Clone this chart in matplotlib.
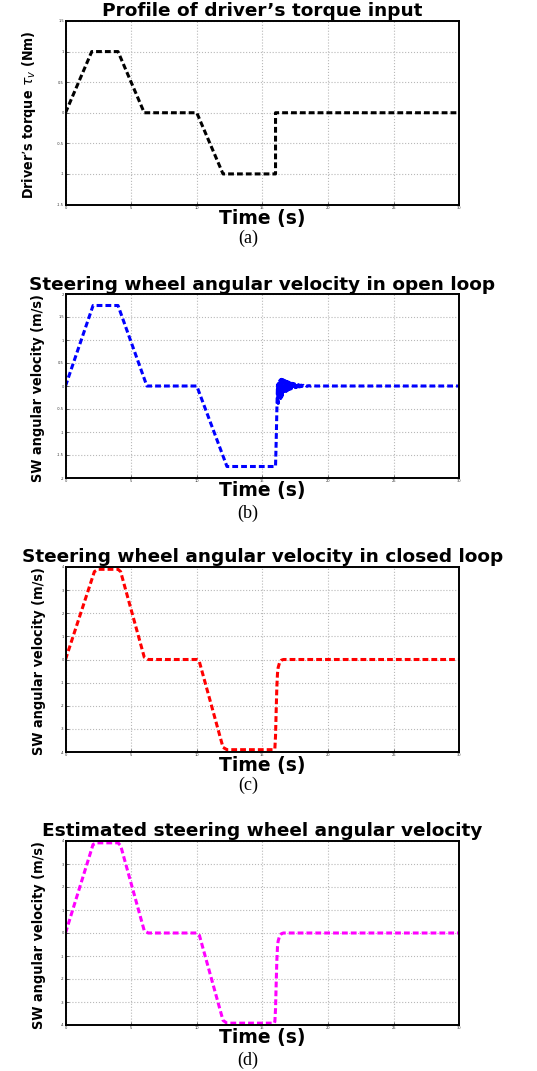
"""Four stacked panels: driver torque and steering wheel angular velocity."""

import matplotlib

matplotlib.use("Agg")
import matplotlib.pyplot as plt  # noqa: E402

# (a) driver's torque input (Nm)
torque_t = [0, 2.0, 4.0, 6.0, 10.0, 12.0, 16.0, 16.0, 30]
torque_v = [0, 1.0, 1.0, 0.0, 0.0, -1.0, -1.0, 0.0, 0.0]

# (b) open loop steering wheel angular velocity, with the ringing after the step
open_t = [0, 2.1, 4.0, 6.2, 10.0, 12.3, 16.0, 16.05, 16.10,
          16.15, 16.20, 16.25, 16.30, 16.35, 16.40, 16.45, 16.50, 16.55, 16.60,
          16.65, 16.70, 16.75, 16.80, 16.85, 16.90, 16.95, 17.00, 17.05, 17.10,
          17.15, 17.20, 17.25, 17.30, 17.35, 17.40, 17.45, 17.50, 17.55, 17.60,
          17.65, 17.70, 17.75, 17.80, 17.85, 17.90, 17.95, 18.00, 18.10, 18.20,
          18.30, 18.40, 18.55, 18.70, 18.90, 19.10, 30]
open_v = [0, 1.75, 1.75, 0.0, 0.0, -1.75, -1.75, -1.20, -0.55,
          0.03, -0.38, 0.09, -0.32, 0.13, -0.27, 0.145, -0.22, 0.14, -0.18,
          0.125, -0.15, 0.11, -0.12, 0.10, -0.10, 0.09, -0.08, 0.08, -0.07,
          0.07, -0.06, 0.06, -0.05, 0.05, -0.04, 0.045, -0.035, 0.04, -0.03,
          0.035, -0.025, 0.03, -0.02, 0.025, -0.015, 0.02, -0.012, 0.016, -0.01,
          0.012, -0.007, 0.008, -0.004, 0.004, 0.0, 0.0]

# (c) closed loop steering wheel angular velocity
closed_t = [0, 2.2, 2.5, 4.0, 4.2, 6.0, 6.3, 10.0, 10.2, 12.0, 12.3, 15.9,
            15.95, 16.0, 16.05, 16.1, 16.15, 16.2, 16.3, 16.45, 16.6, 30]
closed_v = [0, 3.8, 3.9, 3.9, 3.8, 0.1, 0.0, 0.0, -0.1, -3.8, -3.9, -3.9,
            -3.85, -3.3, -2.2, -1.2, -0.6, -0.35, -0.15, -0.03, 0.0, 0.0]

# (d) estimated steering wheel angular velocity
est_t = [0, 2.1, 2.4, 4.0, 4.2, 6.0, 6.3, 10.0, 10.2, 12.0, 12.3, 15.9,
         15.95, 16.0, 16.05, 16.1, 16.15, 16.2, 16.3, 16.45, 16.6, 30]
est_v = [0, 3.85, 3.92, 3.92, 3.8, 0.1, 0.0, 0.0, -0.1, -3.8, -3.92, -3.92,
         -3.85, -3.3, -2.2, -1.2, -0.6, -0.35, -0.15, -0.03, 0.0, 0.0]

time_ticks = [0, 5, 10, 15, 20, 25, 30]
torque_ticks = [-1.5, -1, -0.5, 0, 0.5, 1, 1.5]
open_ticks = [-2, -1.5, -1, -0.5, 0, 0.5, 1, 1.5, 2]
closed_ticks = [-4, -3, -2, -1, 0, 1, 2, 3, 4]

W, H = 537, 1071
TITLE_FONT = dict(family="DejaVu Sans", weight="bold", size=13.3)
YLABEL_FONT = dict(family="DejaVu Sans", stretch="condensed", weight="bold")


def fx(px):
    return px / W


def fy(px):
    return 1 - px / H


def panel(fig, top, bottom, t, v, color, ticks, title, ylabel, caption,
          title_y, xlabel_y, caption_y, ylabel_x, ylabel_size):
    left, right = 65.5, 459.3
    ax = fig.add_axes([fx(left), fy(bottom), fx(right - left), (bottom - top) / H])
    ax.plot(t, v, color=color, lw=2.2, linestyle=(0, (1.9, 1.0)))
    ax.set_xlim(0, 30)
    ax.set_ylim(ticks[0], ticks[-1])
    ax.set_xticks(time_ticks)
    ax.set_yticks(ticks)
    ax.set_yticklabels([f"{x:g}" for x in ticks])
    ax.grid(True, linestyle=":", color="#b8b8b8", lw=0.8)
    ax.tick_params(direction="in", length=2, width=0.5, labelsize=2.6,
                   pad=1, colors="#333333")
    for s in ax.spines.values():
        s.set_linewidth(1.4)
    cx = (left + right) / 2
    fig.text(fx(cx), fy(title_y), title, ha="center", va="center", **TITLE_FONT)
    fig.text(fx(cx), fy(xlabel_y), "Time (s)", ha="center", va="center",
             family="DejaVu Sans", weight="bold", size=13.5)
    fig.text(fx(248), fy(caption_y), caption, ha="center", va="center",
             family="Liberation Serif", size=13)
    fig.text(fx(ylabel_x), fy((top + bottom) / 2 + 2), ylabel, rotation=90,
             ha="center", va="center", size=ylabel_size, **YLABEL_FONT)
    return ax


def main():
    fig = plt.figure(figsize=(W / 100, H / 100), dpi=100)
    panel(fig, 21, 204.5, torque_t, torque_v, "black", torque_ticks,
          "Profile of driver’s torque input",
          "Driver’s torque $\\tau_v$ (Nm)", "(a)", 11, 219, 238, 29, 10.2)
    panel(fig, 294, 478, open_t, open_v, "#0000ff", open_ticks,
          "Steering wheel angular velocity in open loop",
          "SW angular velocity (m/s)", "(b)", 285, 491, 513, 38, 10.4)
    panel(fig, 567, 752, closed_t, closed_v, "#ff0000", closed_ticks,
          "Steering wheel angular velocity in closed loop",
          "SW angular velocity (m/s)", "(c)", 557, 765, 785, 39, 10.4)
    panel(fig, 841, 1025, est_t, est_v, "#ff00ff", closed_ticks,
          "Estimated steering wheel angular velocity",
          "SW angular velocity (m/s)", "(d)", 831, 1038, 1060, 39, 10.4)
    fig.savefig("out.png", dpi=100)


if __name__ == "__main__":
    main()
